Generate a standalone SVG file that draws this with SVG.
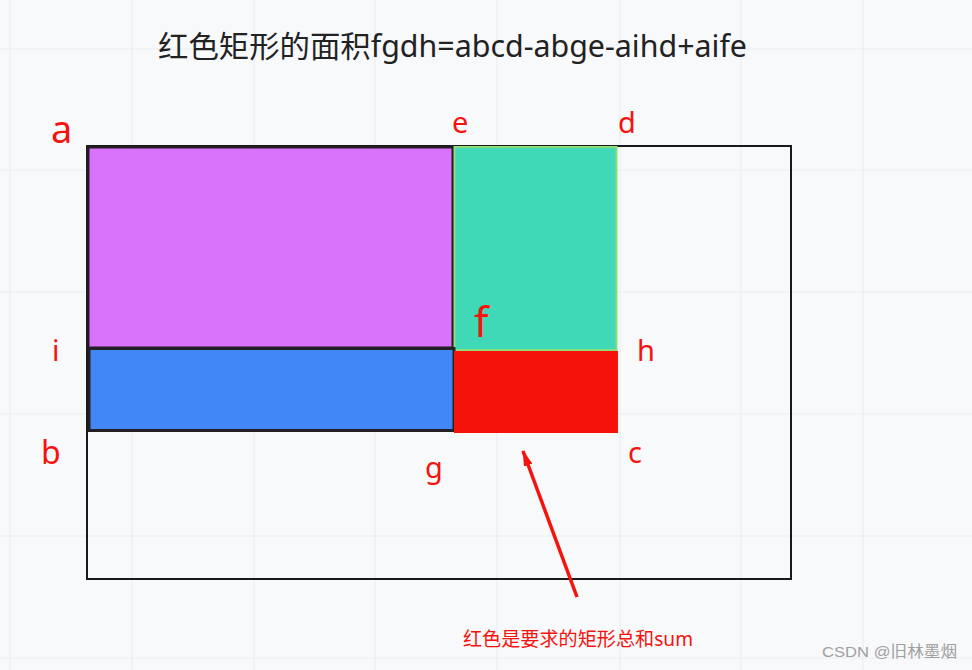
<svg xmlns="http://www.w3.org/2000/svg" width="972" height="670" viewBox="0 0 972 670">
<defs>
<style>
.grid{stroke:#eceef2;stroke-width:1.2}
.lbl{font-family:"Noto Sans","Noto Sans CJK SC",sans-serif;fill:#f5130d}
.title{font-family:"Noto Sans","Noto Sans CJK SC",sans-serif;fill:#222;font-size:30px}
</style>
<marker id="ah" markerWidth="16" markerHeight="9" refX="15" refY="4.5" orient="auto" markerUnits="userSpaceOnUse"><path d="M0,0 L16,4.5 L0,9 Z" fill="#f5130d"/></marker>
</defs>
<rect width="972" height="670" fill="#f8f9fb"/>
<g id="grid">
<path class="grid" d="M10,0V670M132,0V670M254,0V670M375,0V670M497,0V670M620,0V670M741,0V670M863,0V670M0,49H972M0,170H972M0,292H972M0,414H972M0,536H972M0,658H972"/>
</g>
<text class="title" x="158" y="57" textLength="589" lengthAdjust="spacingAndGlyphs">红色矩形的面积fgdh=abcd-abge-aihd+aife</text>
<g id="outer"><rect x="87" y="146" width="704" height="433" fill="none" stroke="#1a1a1a" stroke-width="2"/></g>
<g id="purple"><rect x="88" y="147" width="365" height="201" fill="#d973fb" stroke="#221c22" stroke-width="3"/></g>
<g id="teal"><rect x="454.5" y="147" width="162" height="203" fill="#40d9b8" stroke="#8ddc78" stroke-width="2"/></g>
<g id="blue"><rect x="89" y="348.5" width="365" height="82" fill="#4287f6" stroke="#231f24" stroke-width="3"/></g>
<g id="red"><rect x="454" y="351" width="164" height="82" fill="#f5120b"/></g>
<g id="labels">
<text class="lbl" x="51" y="143" font-size="38">a</text>
<text class="lbl" x="452" y="133" font-size="29">e</text>
<text class="lbl" x="618" y="133" font-size="29">d</text>
<text class="lbl" x="474" y="337" font-size="42">f</text>
<text class="lbl" x="52" y="361" font-size="29">i</text>
<text class="lbl" x="637" y="361" font-size="29">h</text>
<text class="lbl" x="41" y="464" font-size="32">b</text>
<text class="lbl" x="628" y="463" font-size="29">c</text>
<text class="lbl" x="425" y="478" font-size="29">g</text>
</g>
<g id="connectors">
<line x1="577" y1="597" x2="523" y2="451" stroke="#f5130d" stroke-width="3.5" marker-end="url(#ah)"/>
</g>
<text class="lbl" x="463" y="646" font-size="19.5" textLength="230" lengthAdjust="spacingAndGlyphs">红色是要求的矩形总和sum</text>
<text x="822" y="657" font-family="'Liberation Sans','Noto Sans CJK SC',sans-serif" font-size="15.5" fill="#a0a0a0" textLength="135" lengthAdjust="spacingAndGlyphs">CSDN @旧林墨烟</text>
</svg>
